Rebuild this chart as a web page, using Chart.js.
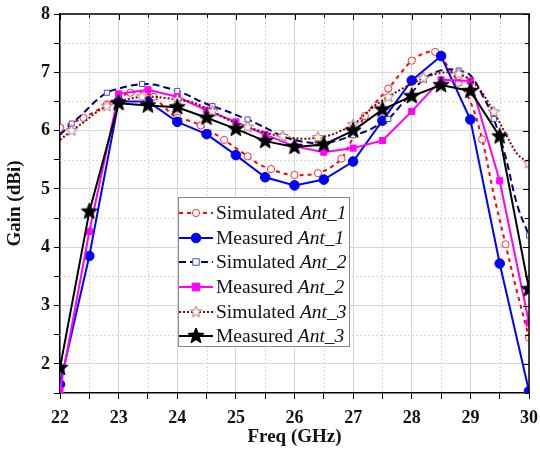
<!DOCTYPE html>
<html>
<head>
<meta charset="utf-8">
<script src="https://cdn.jsdelivr.net/npm/chart.js@4"></script>
<style>
body{margin:0;background:#fff}
#wrap{position:relative;width:540px;height:452px}
#legend{position:absolute;left:178px;top:197px;width:172px;height:150px;border:1px solid #8a8a8a;background:#fff;box-sizing:border-box;padding-top:3px;font-family:"Liberation Serif","Times New Roman",serif;font-size:19.5px;color:#111}
.row{display:flex;align-items:center;height:24.6px;white-space:nowrap}
.row canvas{margin-right:3px}
.row i{font-style:italic}
</style>
</head>
<body>
<div id="wrap">
<canvas id="gain" width="540" height="452"></canvas>
<div id="legend"></div>
</div>
<script>
// measured points, every 0.5 GHz
const freqMeas = [22, 22.5, 23, 23.5, 24, 24.5, 25, 25.5, 26, 26.5, 27, 27.5, 28, 28.5, 29, 29.5, 30];
const measAnt1 = [1.65, 3.85, 6.50, 6.50, 6.15, 5.94, 5.58, 5.20, 5.06, 5.16, 5.47, 6.17, 6.86, 7.28, 6.19, 3.72, 1.53];
const measAnt2 = [1.55, 4.27, 6.63, 6.70, 6.58, 6.35, 6.15, 5.93, 5.73, 5.63, 5.70, 5.83, 6.33, 6.87, 6.85, 5.14, 2.70];
const measAnt3 = [1.93, 4.61, 6.47, 6.43, 6.40, 6.22, 6.03, 5.82, 5.72, 5.76, 6.00, 6.36, 6.59, 6.78, 6.68, 5.90, 3.28];

// simulated curves, every 0.2 GHz
const freqSim = [22, 22.2, 22.4, 22.6, 22.8, 23, 23.2, 23.4, 23.6, 23.8, 24, 24.2, 24.4, 24.6, 24.8, 25, 25.2, 25.4, 25.6, 25.8, 26,
  26.2, 26.4, 26.6, 26.8, 27, 27.2, 27.4, 27.6, 27.8, 28, 28.2, 28.4, 28.6, 28.8, 29, 29.2, 29.4, 29.6, 29.8, 30];
const simAnt1 = [6.05, 6.13, 6.22, 6.33, 6.45, 6.57, 6.65, 6.66, 6.58, 6.38, 6.22, 6.17, 6.09, 5.97, 5.84, 5.70, 5.56, 5.42, 5.34, 5.27, 5.24,
  5.24, 5.27, 5.36, 5.52, 5.88, 6.25, 6.50, 6.72, 6.97, 7.20, 7.32, 7.35, 7.12, 6.82, 6.50, 5.85, 4.90, 4.05, 3.22, 2.45];
const simAnt2 = [5.93, 6.12, 6.30, 6.50, 6.65, 6.72, 6.77, 6.80, 6.79, 6.74, 6.68, 6.60, 6.50, 6.42, 6.35, 6.27, 6.19, 6.10, 6.00, 5.90, 5.84,
  5.80, 5.78, 5.80, 5.85, 5.92, 5.98, 6.08, 6.20, 6.42, 6.65, 6.88, 7.00, 7.05, 7.03, 6.95, 6.62, 6.20, 5.55, 4.72, 4.20];
const simAnt3 = [5.84, 6.00, 6.14, 6.30, 6.42, 6.50, 6.55, 6.58, 6.58, 6.56, 6.53, 6.50, 6.43, 6.33, 6.22, 6.13, 6.06, 6.00, 5.94, 5.90, 5.87,
  5.86, 5.88, 5.92, 6.00, 6.10, 6.28, 6.45, 6.58, 6.70, 6.80, 6.90, 6.97, 7.00, 6.97, 6.87, 6.65, 6.32, 5.95, 5.60, 5.44];

const xTicks = [22, 23, 24, 25, 26, 27, 28, 29, 30];
const yTicks = [2, 3, 4, 5, 6, 7, 8];

function star(R, r, fill, stroke, lw) {
  const s = Math.ceil(2 * R + lw + 2);
  const c = document.createElement('canvas');
  c.width = c.height = s;
  const g = c.getContext('2d');
  g.beginPath();
  for (let i = 0; i < 10; i++) {
    const a = -Math.PI / 2 + i * Math.PI / 5;
    const rr = i % 2 ? r : R;
    g.lineTo(s / 2 + rr * Math.cos(a), s / 2 + rr * Math.sin(a));
  }
  g.closePath();
  g.fillStyle = fill; g.fill();
  if (stroke) { g.strokeStyle = stroke; g.lineWidth = lw; g.stroke(); }
  return c;
}
const starFull = star(8.5, 3.6, '#000', '#000', 1);
const starOpen = star(6, 2.6, '#fff', '#b86a6a', 1);

const pts = (xs, ys) => xs.map((x, i) => ({x: x, y: ys[i]}));
const every = (n, k, r) => freqSim.map((_, i) => i % n === k ? r : 0);

const series = [
  {label: 'Simulated', ant: 'Ant_1', data: pts(freqSim, simAnt1), borderColor: '#ff0000', borderDash: [4, 4], borderWidth: 2,
    tension: 0.35, pointStyle: 'circle', pointRadius: every(2, 0, 3.6), pointBackgroundColor: '#fff', pointBorderColor: '#ff3030', pointBorderWidth: 1},
  {label: 'Measured', ant: 'Ant_1', data: pts(freqMeas, measAnt1), borderColor: '#0000ff', borderWidth: 2,
    tension: 0, pointStyle: 'circle', pointRadius: 4.8, pointBackgroundColor: '#0000ff', pointBorderColor: '#0000ff', pointBorderWidth: 1},
  {label: 'Simulated', ant: 'Ant_2', data: pts(freqSim, simAnt2), borderColor: '#00007a', borderDash: [7, 4], borderWidth: 2,
    tension: 0.35, pointStyle: 'rect', pointRadius: every(3, 1, 3.6), pointBackgroundColor: '#fff', pointBorderColor: '#4a4ac8', pointBorderWidth: 1},
  {label: 'Measured', ant: 'Ant_2', data: pts(freqMeas, measAnt2), borderColor: '#ff00ff', borderWidth: 2,
    tension: 0, pointStyle: 'rect', pointRadius: 4.3, pointBackgroundColor: '#ff00ff', pointBorderColor: '#ff00ff', pointBorderWidth: 1},
  {label: 'Simulated', ant: 'Ant_3', data: pts(freqSim, simAnt3), borderColor: '#800000', borderDash: [2, 2], borderWidth: 2,
    tension: 0.35, pointStyle: starOpen, pointRadius: every(3, 1, 6), pointBackgroundColor: '#fff', pointBorderColor: '#b86a6a'},
  {label: 'Measured', ant: 'Ant_3', data: pts(freqMeas, measAnt3), borderColor: '#000000', borderWidth: 2,
    tension: 0, pointStyle: starFull, pointRadius: 9, pointBackgroundColor: '#000', pointBorderColor: '#000'}
];

const datasets = series.map((s, i) => Object.assign({}, s, {
  label: s.label + ' ' + s.ant, fill: false, clip: 0, order: series.length - 1 - i, pointHoverRadius: 0
}));

const grey = '#d6d6d6';
const isMajor = v => Math.abs(v - Math.round(v)) < 1e-6;

const framePlugin = {
  id: 'frame',
  beforeDatasetsDraw(chart) {
    const {ctx, chartArea: a, scales: {x, y}} = chart;
    ctx.save();
    ctx.strokeStyle = grey; ctx.lineWidth = 1; ctx.setLineDash([2, 2]);
    x.ticks.forEach(t => {
      if (isMajor(t.value)) return;
      const p = Math.round(x.getPixelForValue(t.value)) + 0.5;
      ctx.beginPath(); ctx.moveTo(p, a.top); ctx.lineTo(p, a.bottom); ctx.stroke();
    });
    y.ticks.forEach(t => {
      if (isMajor(t.value) || t.value <= y.min) return;
      const p = Math.round(y.getPixelForValue(t.value)) + 0.5;
      ctx.beginPath(); ctx.moveTo(a.left, p); ctx.lineTo(a.right, p); ctx.stroke();
    });
    ctx.restore();
  },
  afterDraw(chart) {
    const {ctx, chartArea: a, scales: {x, y}} = chart;
    ctx.save();
    ctx.strokeStyle = '#000'; ctx.lineWidth = 1.5;
    ctx.beginPath();
    ctx.moveTo(a.left, a.top); ctx.lineTo(a.right, a.top); ctx.lineTo(a.right, a.bottom);
    ctx.stroke();
    ctx.lineWidth = 1;
    x.ticks.forEach(t => {
      const p = Math.round(x.getPixelForValue(t.value)) + 0.5;
      const len = isMajor(t.value) ? 6 : 4;
      ctx.beginPath(); ctx.moveTo(p, a.top); ctx.lineTo(p, a.top + len); ctx.stroke();
    });
    y.ticks.forEach(t => {
      const p = Math.round(y.getPixelForValue(t.value)) + 0.5;
      const len = isMajor(t.value) ? 6 : 4;
      ctx.beginPath(); ctx.moveTo(a.right, p); ctx.lineTo(a.right - len, p); ctx.stroke();
    });
    ctx.restore();
  }
};

const tickFont = {family: '"Liberation Serif", "Times New Roman", serif', size: 18, weight: 'bold'};
const titleFont = {family: '"Liberation Serif", "Times New Roman", serif', size: 19, weight: 'bold'};

new Chart(document.getElementById('gain'), {
  type: 'line',
  data: {datasets: datasets},
  options: {
    responsive: false,
    animation: false,
    events: [],
    layout: {padding: {top: 14, right: 10, left: 0, bottom: 0}},
    plugins: {legend: {display: false}, tooltip: {enabled: false}},
    scales: {
      x: {
        type: 'linear', min: 22, max: 30,
        afterFit: s => { s.height = 59; s.paddingLeft = 0; s.paddingRight = 0; },
        ticks: {stepSize: 0.5, autoSkip: false, maxRotation: 0, padding: 9, color: '#111', font: tickFont,
          callback: v => xTicks.includes(v) ? String(v) : ''},
        grid: {color: c => isMajor(c.tick.value) ? grey : 'rgba(0,0,0,0)', tickColor: '#000', tickLength: 6, lineWidth: 1},
        border: {color: '#000', width: 1.5},
        title: {display: true, text: 'Freq (GHz)', color: '#111', font: titleFont, padding: {top: 0, bottom: 4}}
      },
      y: {
        type: 'linear', min: 1.5, max: 8,
        afterFit: s => { s.width = 60; s.paddingTop = 0; s.paddingBottom = 0; },
        ticks: {stepSize: 0.5, autoSkip: false, padding: 4, color: '#111', font: tickFont,
          callback: v => yTicks.includes(v) ? String(v) : ''},
        grid: {color: c => isMajor(c.tick.value) && c.tick.value > 1.5 ? grey : 'rgba(0,0,0,0)', tickColor: '#000', tickLength: 6, lineWidth: 1},
        border: {color: '#000', width: 1.5},
        title: {display: true, text: 'Gain (dBi)', color: '#111', font: titleFont, padding: {top: 4, bottom: 0}}
      }
    }
  },
  plugins: [framePlugin]
});

// legend box inside the plot
const legend = document.getElementById('legend');
series.forEach(s => {
  const row = document.createElement('div');
  row.className = 'row';
  const c = document.createElement('canvas');
  c.width = 34; c.height = 16;
  const g = c.getContext('2d');
  g.strokeStyle = s.borderColor; g.lineWidth = s.borderWidth;
  g.setLineDash(s.borderDash || []);
  g.beginPath(); g.moveTo(0, 8); g.lineTo(34, 8); g.stroke();
  g.setLineDash([]);
  if (s.pointStyle instanceof HTMLCanvasElement) {
    const im = s.pointStyle;
    g.drawImage(im, 17 - im.width / 2, 8 - im.height / 2);
  } else {
    const r = Array.isArray(s.pointRadius) ? Math.max(...s.pointRadius) : s.pointRadius;
    g.fillStyle = s.pointBackgroundColor; g.strokeStyle = s.pointBorderColor; g.lineWidth = 1;
    g.beginPath();
    if (s.pointStyle === 'rect') { const h = r * 0.9; g.rect(17 - h, 8 - h, 2 * h, 2 * h); }
    else g.arc(17, 8, r, 0, Math.PI * 2);
    g.fill(); g.stroke();
  }
  row.appendChild(c);
  const txt = document.createElement('span');
  txt.innerHTML = s.label + ' <i>' + s.ant + '</i>';
  row.appendChild(txt);
  legend.appendChild(row);
});
</script>
</body>
</html>
